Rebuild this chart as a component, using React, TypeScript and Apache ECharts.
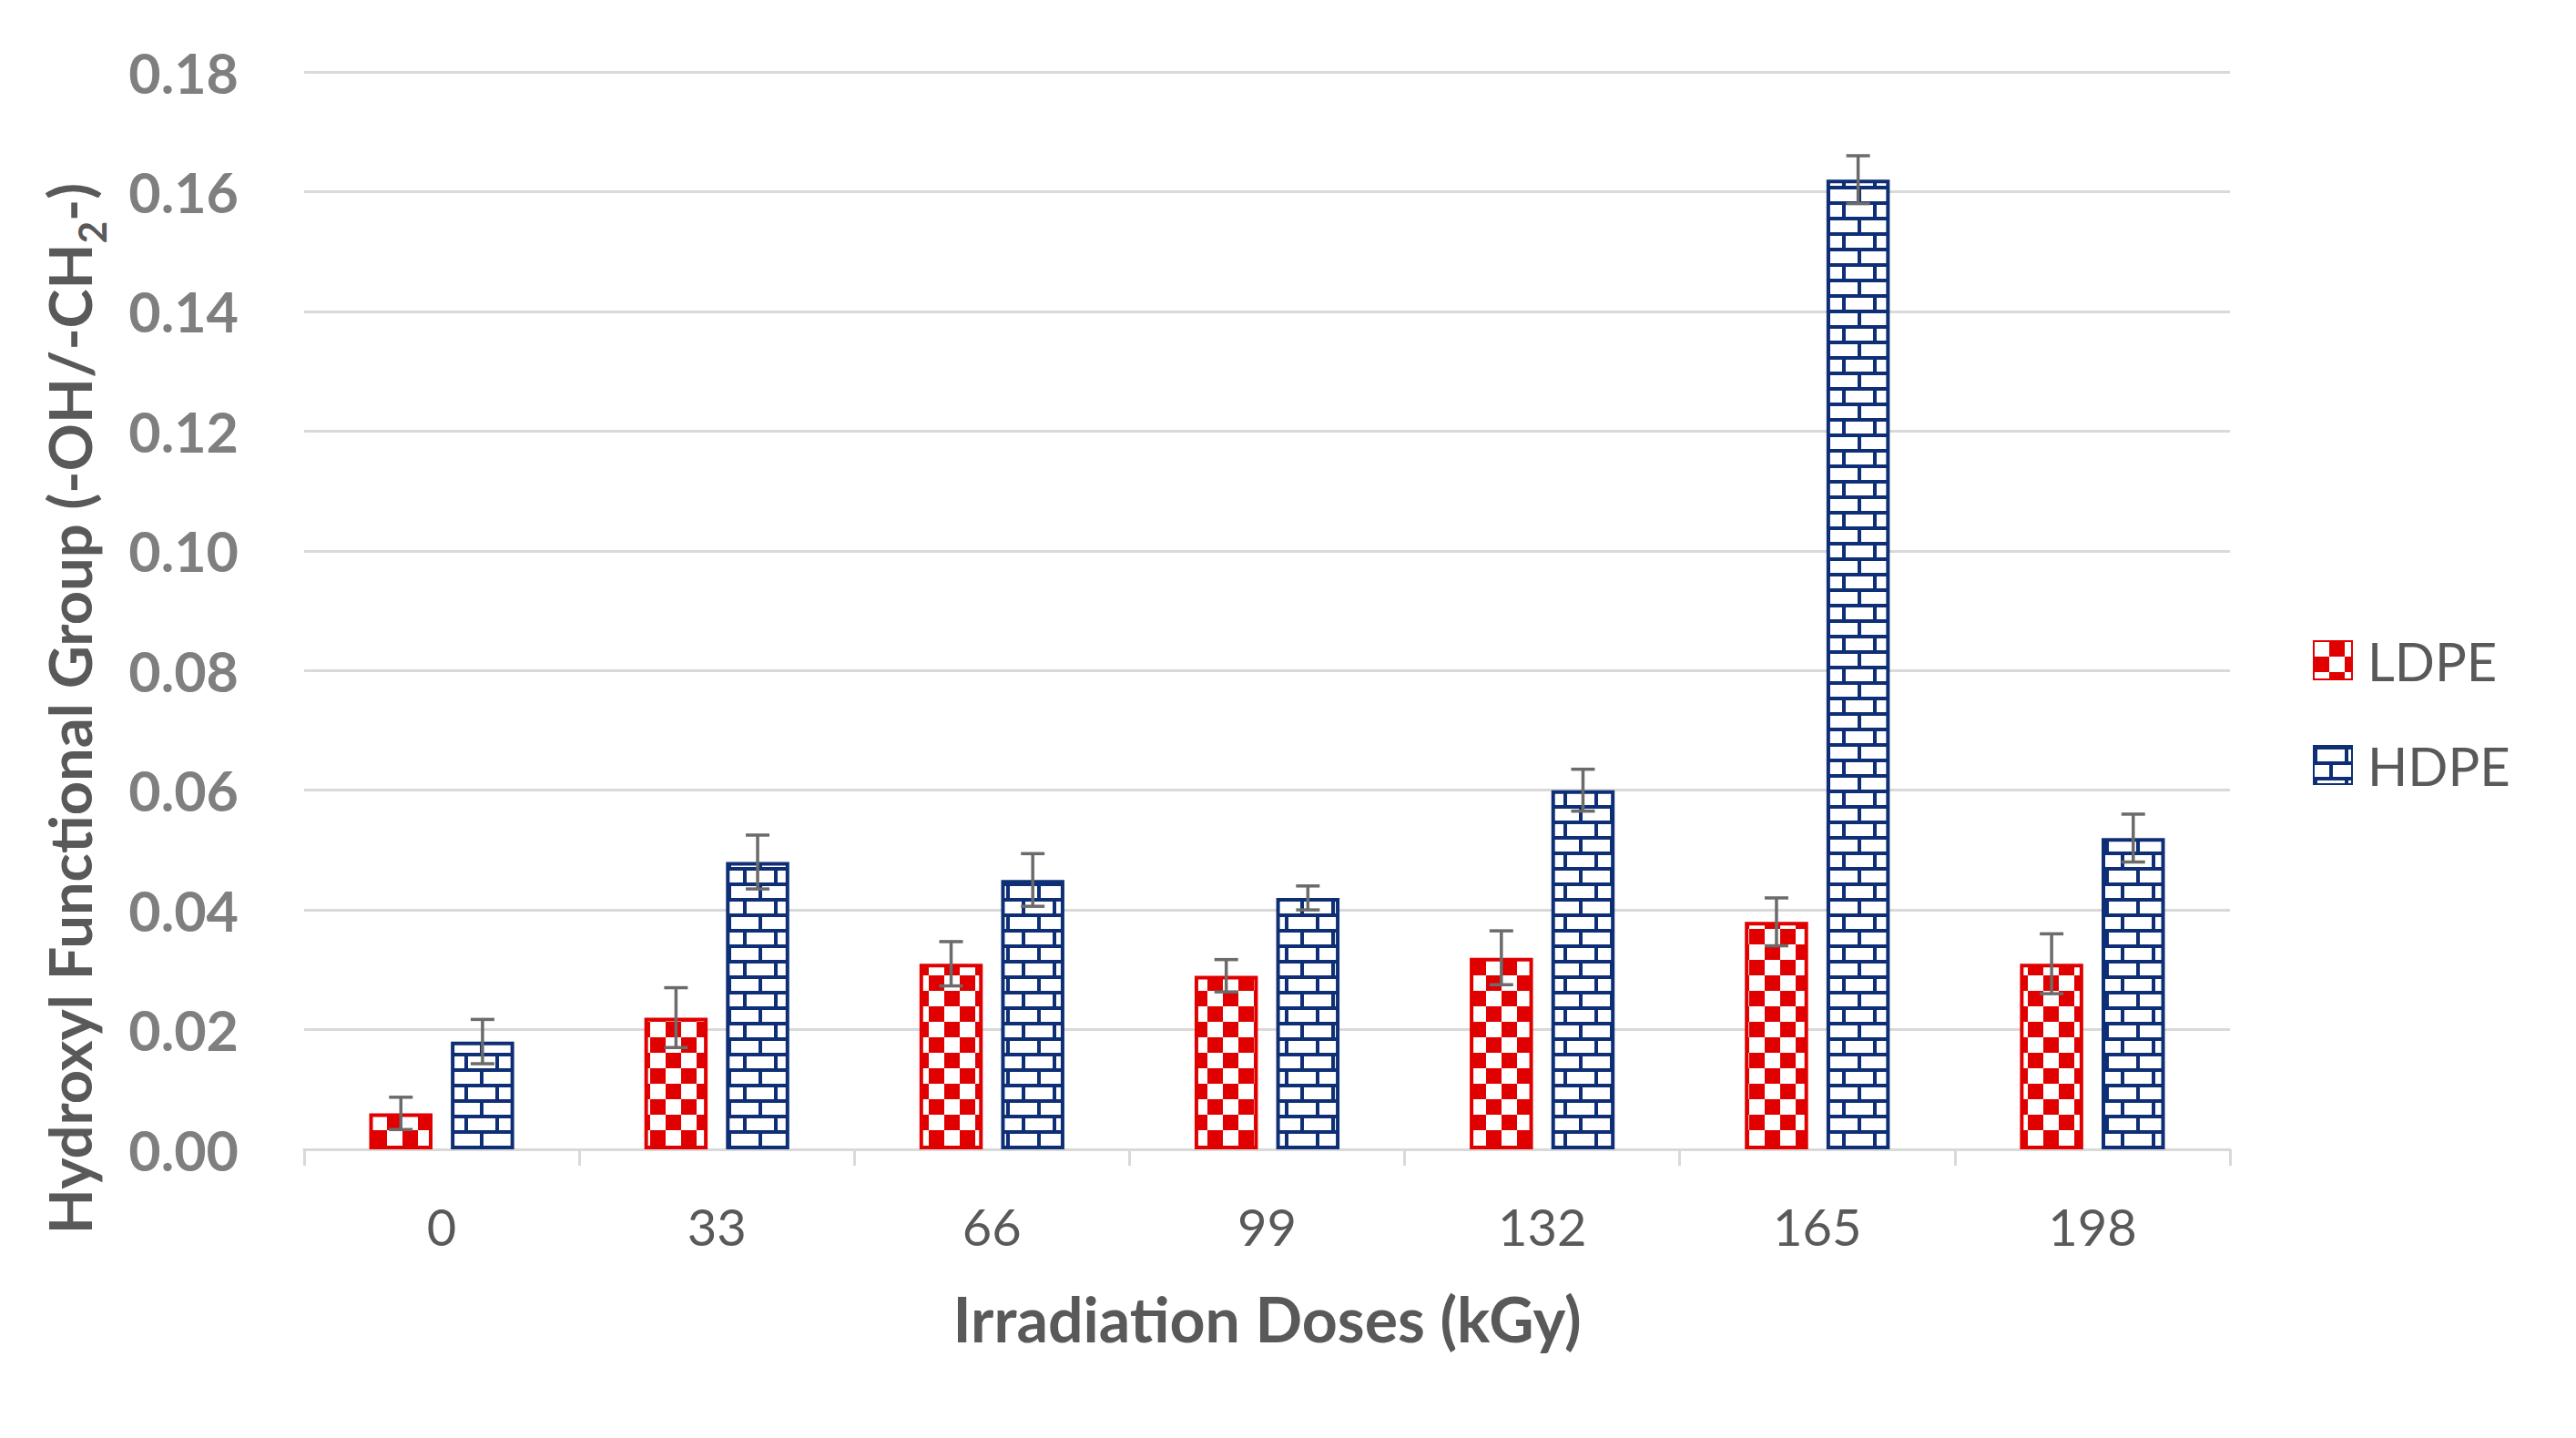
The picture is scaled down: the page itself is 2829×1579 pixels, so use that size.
import React, { useEffect, useRef } from "react";
import * as echarts from "echarts";

const doses = ["0", "33", "66", "99", "132", "165", "198"];
const ldpe = [0.006, 0.022, 0.031, 0.029, 0.032, 0.038, 0.031];
const ldpeErr = [0.0027, 0.005, 0.0037, 0.0027, 0.0045, 0.004, 0.005];
const hdpe = [0.018, 0.048, 0.045, 0.042, 0.06, 0.162, 0.052];
const hdpeErr = [0.0037, 0.0045, 0.0044, 0.002, 0.0035, 0.004, 0.004];
const yTicks = { min: 0, max: 0.18, interval: 0.02 };

const RED = "#e00000";
const NAVY = "#0e2f76";
const BAR_W = 0.23;
const BAR_GAP = 0.29;

function checker(): HTMLCanvasElement {
  const c = document.createElement("canvas");
  c.width = 34;
  c.height = 34;
  const g = c.getContext("2d")!;
  g.fillStyle = RED;
  g.fillRect(0, 0, 34, 34);
  g.fillStyle = "#ffffff";
  g.fillRect(0, 0, 17, 17);
  g.fillRect(17, 17, 17, 17);
  return c;
}

function brick(): HTMLCanvasElement {
  const c = document.createElement("canvas");
  c.width = 34;
  c.height = 34;
  const g = c.getContext("2d")!;
  g.fillStyle = "#ffffff";
  g.fillRect(0, 0, 34, 34);
  g.fillStyle = NAVY;
  g.fillRect(0, 0, 34, 4);
  g.fillRect(0, 17, 34, 4);
  g.fillRect(0, 0, 4, 17);
  g.fillRect(17, 17, 4, 17);
  return c;
}

function errSeries(name: string, vals: number[], errs: number[], sign: number) {
  return {
    type: "custom",
    name,
    z: 5,
    data: vals.map((v, i) => [i, v, errs[i]]),
    encode: { x: 0, y: 1 },
    renderItem: (params: any, api: any) => {
      const x = api.value(0);
      const y = api.value(1);
      const e = api.value(2);
      const hi = api.coord([x, y + e]);
      const lo = api.coord([x, y - e]);
      const band = api.size([1, 0])[0];
      const bw = band * BAR_W;
      const off = (sign * (bw + bw * BAR_GAP)) / 2;
      const cx = hi[0] + off;
      const cap = 13;
      const st = { stroke: "#6b6b6b", lineWidth: 3.5 };
      return {
        type: "group",
        children: [
          { type: "line", shape: { x1: cx, y1: hi[1], x2: cx, y2: lo[1] }, style: st },
          { type: "line", shape: { x1: cx - cap, y1: hi[1], x2: cx + cap, y2: hi[1] }, style: st },
          { type: "line", shape: { x1: cx - cap, y1: lo[1], x2: cx + cap, y2: lo[1] }, style: st },
        ],
      };
    },
  };
}

export default function App() {
  const ref = useRef<HTMLDivElement>(null);
  useEffect(() => {
    document.body.style.margin = "0";
    const chart = echarts.init(ref.current!, undefined, { renderer: "svg" });
    const font = "Lato, 'Open Sans', sans-serif";
    chart.setOption({
      animation: false,
      backgroundColor: "#ffffff",
      textStyle: { fontFamily: font },
      grid: { left: 334, right: 380, top: 79, bottom: 317, containLabel: false },
      legend: {
        orient: "vertical",
        left: 2535,
        top: 691,
        itemWidth: 42,
        itemHeight: 42,
        itemGap: 57,
        icon: "rect",
        data: ["LDPE", "HDPE"],
        textStyle: { fontSize: 58, color: "#595959", fontFamily: font, padding: [0, 0, 0, 12] },
      },
      graphic: [
        {
          type: "text",
          x: 70,
          y: 778,
          rotation: Math.PI / 2,
          style: {
            text: "{a|Hydroxyl Functional Group (-OH/-CH}{s|2}{a|-)}",
            align: "center",
            verticalAlign: "middle",
            rich: {
              a: { fontSize: 65, fontWeight: "bold", fill: "#595959", fontFamily: font, lineHeight: 76, verticalAlign: "bottom" },
              s: { fontSize: 42, fontWeight: "bold", fill: "#595959", fontFamily: font, lineHeight: 76, verticalAlign: "bottom", padding: [0, 0, -14, 0] },
            },
          },
        },
      ],
      xAxis: {
        type: "category",
        data: doses,
        axisLine: { lineStyle: { color: "#d9d9d9", width: 3 } },
        axisTick: { show: true, length: 18, lineStyle: { color: "#d9d9d9", width: 3 } },
        axisLabel: { fontSize: 56, color: "#595959", margin: 56, fontFamily: font },
        name: "Irradiation Doses (kGy)",
        nameLocation: "middle",
        nameGap: 151,
        nameTextStyle: { fontSize: 68, fontWeight: "bold", color: "#595959", fontFamily: font },
      },
      yAxis: {
        type: "value",
        min: yTicks.min,
        max: yTicks.max,
        interval: yTicks.interval,
        axisLine: { show: false },
        axisTick: { show: false },
        splitLine: { lineStyle: { color: "#d9d9d9", width: 3 } },
        axisLabel: {
          fontSize: 61,
          fontWeight: "bold",
          color: "#7f7f7f",
          margin: 72,
          fontFamily: font,
          formatter: (v: number) => v.toFixed(2),
        },
      },
      series: [
        {
          type: "bar",
          name: "LDPE",
          data: ldpe,
          barWidth: BAR_W * 100 + "%",
          barGap: BAR_GAP * 100 + "%",
          itemStyle: {
            color: { image: checker(), repeat: "repeat" },
            borderColor: RED,
            borderWidth: 4,
          },
        },
        {
          type: "bar",
          name: "HDPE",
          data: hdpe,
          barWidth: BAR_W * 100 + "%",
          barGap: BAR_GAP * 100 + "%",
          itemStyle: {
            color: { image: brick(), repeat: "repeat" },
            borderColor: NAVY,
            borderWidth: 4,
          },
        },
        errSeries("LDPE error", ldpe, ldpeErr, -1),
        errSeries("HDPE error", hdpe, hdpeErr, 1),
      ],
    });
    return () => chart.dispose();
  }, []);
  return <div ref={ref} style={{ width: 2829, height: 1579 }} />;
}
